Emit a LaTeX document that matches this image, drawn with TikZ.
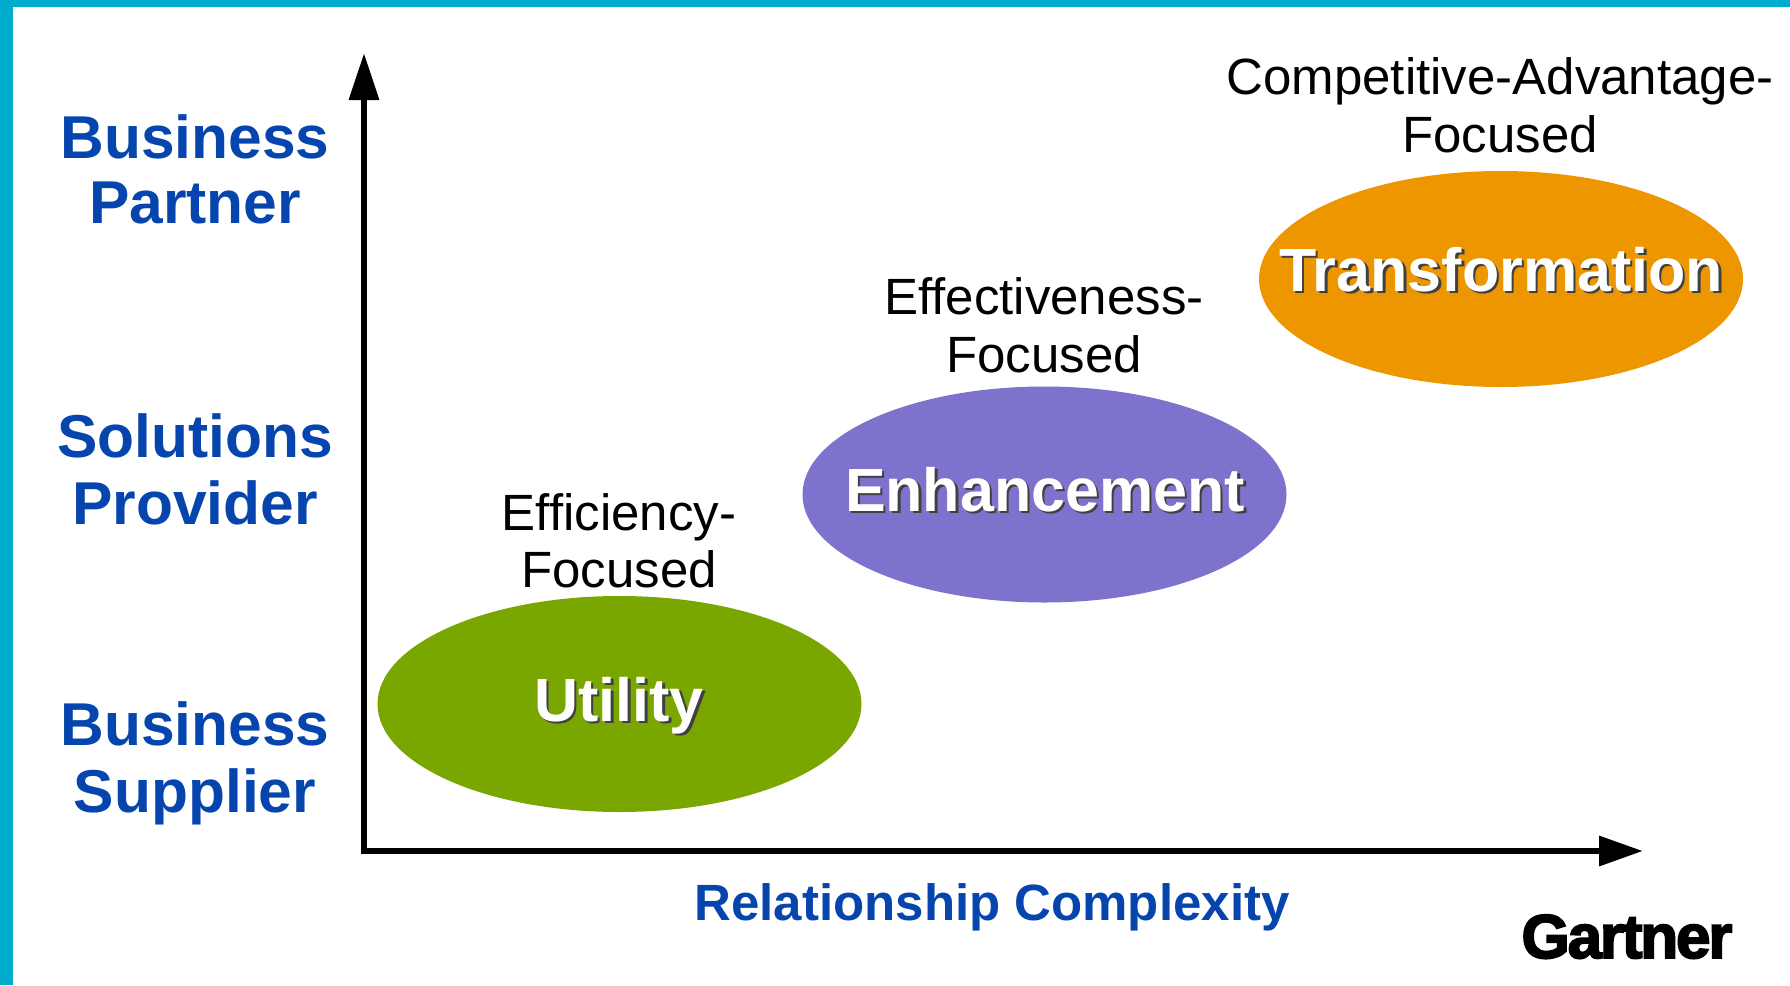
\documentclass[tikz,border=0pt]{standalone}
\usepackage{fontspec}
\setmainfont{Liberation Sans}
\newfontfamily\logofont[FakeBold=3,LetterSpace=-3.5]{Liberation Sans Bold}
\usetikzlibrary{shapes.geometric,arrows.meta}
\definecolor{frametone}{HTML}{00ACCD}
\definecolor{axisblue}{HTML}{0645AD}
\definecolor{utilitygreen}{HTML}{7AA600}
\definecolor{enhancepurple}{HTML}{7D72CC}
\definecolor{transorange}{HTML}{ED9600}
\newcommand{\raisedtext}[1]{\makebox[0pt][l]{\kern2.5pt\raisebox{-2.5pt}{\textcolor{black!75}{#1}}}\textcolor{white}{#1}}
\begin{document}
\begin{tikzpicture}[x=1pt,y=-1pt]
		\tikzset{
			axislabel/.style={
				anchor=base,
				align=center,
				inner sep=0pt,
				text=axisblue,
				font=\fontsize{60.5}{66.5}\selectfont\bfseries
				},
			focuslabel/.style={
				anchor=base,
				align=center,
				inner sep=0pt,
				font=\fontsize{51}{58}\selectfont
				},
			blob/.style={
				ellipse,
				inner sep=0pt,
				minimum width=484pt,
				minimum height=216pt
				},
			blobname/.style={
				anchor=base,
				inner sep=0pt,
				font=\fontsize{61}{65}\selectfont\bfseries
				}
		}
		\useasboundingbox (0,0) rectangle (1790,985);

		% frame
		\fill[frametone] (0,0) rectangle (1790,7);
		\fill[frametone] (0,0) rectangle (13,985);

		% axes
		\coordinate (ytip) at (364,53);
		\coordinate (corner) at (364,851);
		\coordinate (xtip) at (1643,851);
		\draw[line width=6.5pt, {Triangle[length=47pt,width=29pt]}-{Triangle[length=44pt,width=29pt]}] (ytip) -- (corner) -- (xtip);

		% left labels
		\node[axislabel] (partner) at (195,223) {Business\\[-2pt]Partner};
		\node[axislabel] (provider) at (195,524) {Solutions\\Provider};
		\node[axislabel] (supplier) at (195,812) {Business\\Supplier};
		\node[anchor=base, inner sep=0pt, text=axisblue, font=\fontsize{51}{57}\selectfont\bfseries] (complexity) at (992,920) {Relationship Complexity};

		% ellipses
		\node[blob, fill=utilitygreen] (utility) at (619.5,704) {};
		\node[blob, fill=enhancepurple] (enhancement) at (1044.5,494.5) {};
		\node[blob, fill=transorange] (transformation) at (1501,279) {};

		% names in the ellipses
		\node[blobname] (utilityname) at (619,721) {\raisedtext{Utility}};
		\node[blobname] (enhancementname) at (1045,511) {\raisedtext{Enhancement}};
		\node[blobname] (transformationname) at (1501,291) {\raisedtext{Transformation}};

		% focus
		\node[focuslabel] (efficiency) at (619,587) {Efficiency-\\[-1pt]Focused};
		\node[focuslabel] (effectiveness) at (1044,372) {Effectiveness-\\Focused};
		\node[focuslabel] (advantage) at (1500,152) {Competitive-Advantage-\\Focused};

		% logo
		\node[anchor=base, inner sep=0pt, font=\fontsize{62}{62}\logofont] (gartner) at (1627,958) {Gartner};
	\end{tikzpicture}
\end{document}
